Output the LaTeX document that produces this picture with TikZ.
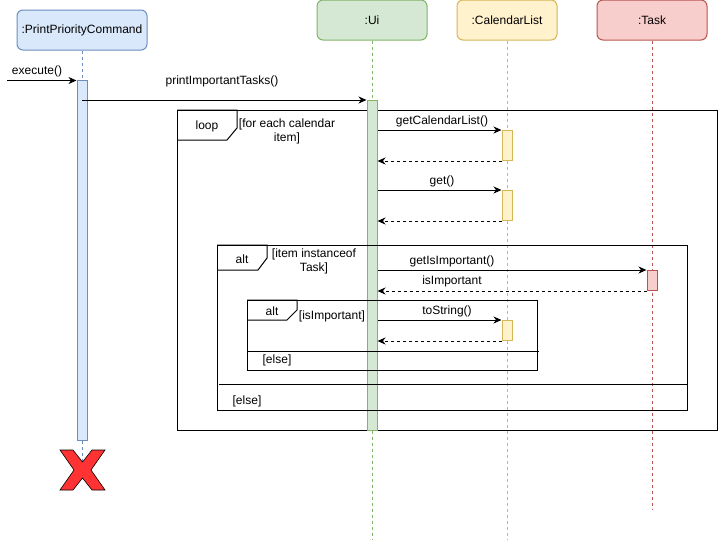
\documentclass[tikz,border=0pt]{standalone}
\usepackage{fontspec}
\setmainfont{Liberation Sans}
\usetikzlibrary{arrows.meta}

\definecolor{blueFill}{HTML}{DAE8FC}
\definecolor{blueLine}{HTML}{6C8EBF}
\definecolor{greenFill}{HTML}{D5E8D4}
\definecolor{greenLine}{HTML}{82B366}
\definecolor{yellowFill}{HTML}{FFF2CC}
\definecolor{yellowLine}{HTML}{D6B656}
\definecolor{redFill}{HTML}{F8CECC}
\definecolor{redLine}{HTML}{B85450}
\definecolor{crossRed}{HTML}{FF3333}

\begin{document}
\begin{tikzpicture}[x=1pt,y=-1pt,
  txt/.style={font=\fontsize{12}{14}\selectfont},
  head/.style={draw, rounded corners=6pt, line width=1pt, minimum height=40pt,
    inner sep=0pt, txt},
  act/.style={draw, line width=1pt, minimum width=10pt, inner sep=0pt, anchor=north},
  lifeline/.style={line width=1pt, dash pattern=on 3pt off 3pt},
  msg/.style={line width=1pt, -{Stealth[length=8pt,width=7pt,inset=2.5pt]}},
  ret/.style={msg, dash pattern=on 3pt off 3pt},
  frame/.style={draw, line width=1pt},
  lbl/.style={txt, inner sep=0pt, align=center}]
\useasboundingbox (0,0) rectangle (718,542);

% participants
\node[head, fill=blueFill, draw=blueLine, minimum width=130pt] (ppc) at (82,30) {:PrintPriorityCommand};
\node[head, fill=greenFill, draw=greenLine, minimum width=110pt] (ui) at (372,20) {:Ui};
\node[head, fill=yellowFill, draw=yellowLine, minimum width=100pt] (cal) at (507,20) {:CalendarList};
\node[head, fill=redFill, draw=redLine, minimum width=110pt] (task) at (652,20) {:Task};

% lifeline ends
\coordinate (ppcEnd) at (82,465);
\coordinate (uiEnd) at (372,540);
\coordinate (calEnd) at (507,540);
\coordinate (taskEnd) at (652,510);

% lifelines
\draw[lifeline, blueLine] (ppc.south) -- (ppcEnd);
\draw[lifeline, greenLine] (ui.south) -- (uiEnd);
\draw[lifeline, yellowLine] (cal.south) -- (calEnd);
\draw[lifeline, redLine] (task.south) -- (taskEnd);

% loop frame
\draw[frame] (177,110) rectangle (717,430);
\draw[frame] (177,110) -- (237,110) -- (237,128) -- (227,140) -- (177,140);
\node[lbl] (loopTag) at (207,126) {loop};
\node[lbl] (loopGuard) at (287,131) {[for each calendar\\item]};

% activation bars
\node[act, fill=blueFill, draw=blueLine, minimum height=360pt] (ppcAct) at (82,80) {};
\node[act, fill=greenFill, draw=greenLine, minimum height=330pt] (uiAct) at (372,100) {};
\node[act, fill=yellowFill, draw=yellowLine, minimum height=30pt] (calActA) at (507,130) {};
\node[act, fill=yellowFill, draw=yellowLine, minimum height=30pt] (calActB) at (507,190) {};
\node[act, fill=redFill, draw=redLine, minimum height=20pt] (taskAct) at (652,270) {};
\node[act, fill=yellowFill, draw=yellowLine, minimum height=20pt] (calActC) at (507,320) {};

% outer alt frame
\draw[frame] (217,245) rectangle (687,410);
\draw[frame] (217,245) -- (267,245) -- (267,258) -- (258,270) -- (217,270);
\draw[frame] (219,384) -- (687,384);
\node[lbl] (altTagA) at (242,259) {alt};
\node[lbl] (altGuardA) at (314,261) {[item instanceof\\Task]};
\node[lbl] (elseA) at (247,401) {[else]};

% inner alt frame
\draw[frame] (247,300) rectangle (537,370);
\draw[frame] (247,300) -- (297,300) -- (297,310) -- (287,320) -- (247,320);
\draw[frame] (247,351) -- (539,351);
\node[lbl] (altTagB) at (272,311) {alt};
\node[lbl] (altGuardB) at (332,316) {[isImportant]};
\node[lbl] (elseB) at (277,360) {[else]};

% messages
\coordinate (caller) at (7,80.5);
\draw[msg] (caller) -- (ppcAct.north west |- caller);
\node[lbl] (mExec) at (37,71) {execute()};

\draw[msg] (ppcAct.center |- 0,100) -- (uiAct.north west);
\node[lbl] (mPrint) at (222,81) {printImportantTasks()};

\draw[msg] (uiAct.east |- calActA.north) -- (calActA.north west);
\node[lbl] (mGetList) at (442,121) {getCalendarList()};
\draw[ret] (calActA.south west) -- (uiAct.east |- calActA.south);

\draw[msg] (uiAct.east |- calActB.north) -- (calActB.north west);
\node[lbl] (mGet) at (442,181) {get()};
\draw[ret] (calActB.south west) -- (uiAct.east |- calActB.south);

\draw[msg] (uiAct.east |- taskAct.north) -- (taskAct.north west);
\node[lbl] (mIsImp) at (452,261) {getIsImportant()};
\draw[ret] (taskAct.south west) -- (uiAct.east |- taskAct.south);
\node[lbl] (rIsImp) at (452,281) {isImportant};

\draw[msg] (uiAct.east |- calActC.north) -- (calActC.north west);
\node[lbl] (mToStr) at (447,311) {toString()};
\draw[ret] (calActC.south west) -- (uiAct.east |- calActC.south);

% destruction mark
\draw[fill=crossRed, draw=black, line width=0.6pt]
  (60,450) -- (73,450) -- (82.5,462) -- (92,450) -- (105,450) -- (91,470)
  -- (105,490) -- (92,490) -- (82.5,478) -- (73,490) -- (60,490) -- (74,470) -- cycle;
\end{tikzpicture}
\end{document}
